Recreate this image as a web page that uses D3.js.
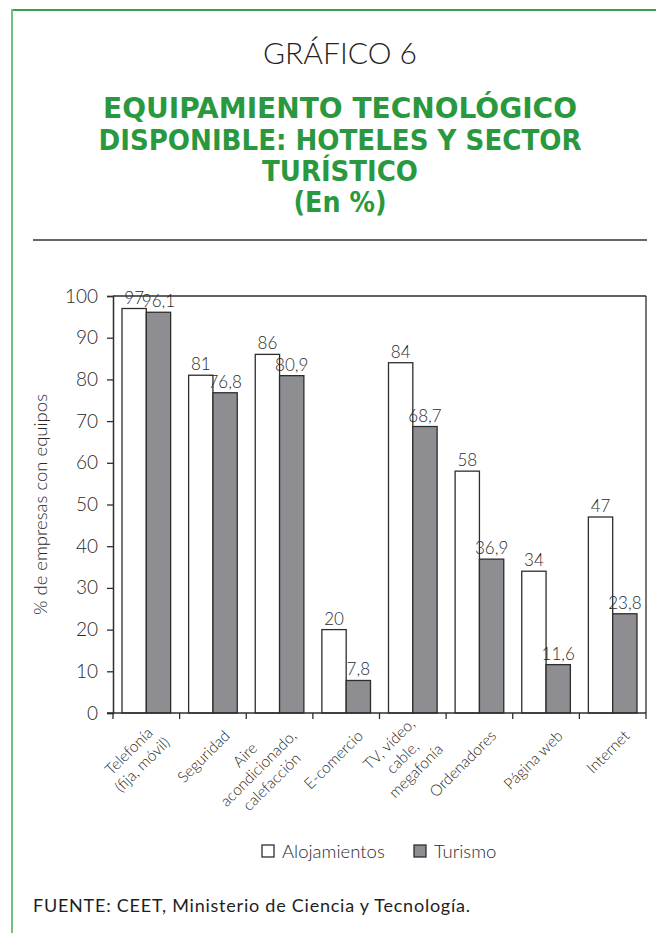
<!DOCTYPE html>
<html lang="es">
<head>
<meta charset="utf-8">
<script src="https://cdn.jsdelivr.net/npm/d3@7"></script>
<style>
  html, body { margin: 0; padding: 0; background: #fff; }
  svg { display: block; }
</style>
</head>
<body>
<svg id="chart" width="656" height="933"></svg>
<script>
// Equipamiento tecnológico: Alojamientos vs Turismo (%)
const categories = [
  ["Telefonía", "(fija, móvil)"],
  ["Seguridad"],
  ["Aire", "acondicionado,", "calefacción"],
  ["E-comercio"],
  ["TV, vídeo,", "cable,", "megafonía"],
  ["Ordenadores"],
  ["Página web"],
  ["Internet"]
];
const seriesNames = ["Alojamientos", "Turismo"];
const alojamientos = [97, 81, 86, 20, 84, 58, 34, 47];
const turismo = [96.1, 76.8, 80.9, 7.8, 68.7, 36.9, 11.6, 23.8];
const yTicks = [0, 10, 20, 30, 40, 50, 60, 70, 80, 90, 100];

const titleLines = ["EQUIPAMIENTO TECNOLÓGICO", "DISPONIBLE: HOTELES Y SECTOR", "TURÍSTICO", "(En %)"];

const FONT = "Lato, 'Open Sans', 'Liberation Sans', sans-serif";
const TXT = "#2a2a2a";
const GREEN = "#2a983e";
const fills = ["#ffffff", "#8e8e92"];

const svg = d3.select("#chart");

// Page frame (green rules top and left)
svg.append("line").attr("x1", 12).attr("x2", 656).attr("y1", 10).attr("y2", 10)
  .attr("stroke", "#3a9e4e").attr("stroke-width", 2);
svg.append("line").attr("x1", 12).attr("x2", 12).attr("y1", 9).attr("y2", 933)
  .attr("stroke", "#72c07f").attr("stroke-width", 2);

// Headings
svg.append("text").attr("x", 340).attr("y", 64).attr("text-anchor", "middle")
  .attr("font-family", FONT).attr("font-weight", 300).attr("font-size", 30)
  .attr("fill", "#222").text("GRÁFICO 6");

const titleY = [118, 150, 181, 212];
const titleW = [474, 483, 156, 93];
titleLines.forEach((t, i) => {
  svg.append("text").attr("x", 340).attr("y", titleY[i]).attr("text-anchor", "middle")
    .attr("font-family", "'DejaVu Sans', sans-serif").attr("font-weight", 700)
    .attr("font-size", 28).attr("fill", GREEN)
    .attr("textLength", titleW[i]).attr("lengthAdjust", "spacingAndGlyphs")
    .text(t);
});

svg.append("line").attr("x1", 33).attr("x2", 647).attr("y1", 240).attr("y2", 240)
  .attr("stroke", "#333").attr("stroke-width", 1.5);

// Plot area
const plot = { left: 113, right: 646, top: 296, bottom: 713 };
const keys = categories.map(c => c.join(" "));

const x = d3.scaleBand().domain(keys).range([plot.left, plot.right]).paddingInner(0).paddingOuter(0);
const x1 = d3.scaleBand().domain(seriesNames).range([0, x.bandwidth()]).paddingInner(0).paddingOuter(0.37);
const y = d3.scaleLinear().domain([0, 100]).range([plot.bottom, plot.top]);

const rows = keys.map((k, i) => ({ key: k, values: [alojamientos[i], turismo[i]] }));

// Bars
const groups = svg.append("g").selectAll("g").data(rows).join("g")
  .attr("transform", d => `translate(${x(d.key)},0)`);

groups.selectAll("rect").data(d => d.values.map((v, j) => ({ s: seriesNames[j], v, j })))
  .join("rect")
  .attr("x", d => x1(d.s))
  .attr("y", d => y(d.v))
  .attr("width", x1.bandwidth())
  .attr("height", d => y(0) - y(d.v))
  .attr("fill", d => fills[d.j])
  .attr("stroke", "#2e2e2e").attr("stroke-width", 1.3);

// Value labels (comma decimal)
const esLocale = d3.formatLocale({ decimal: ",", thousands: ".", grouping: [3], currency: ["", "€"] });
const fmt = v => Number.isInteger(v) ? String(v) : esLocale.format(".1f")(v);

groups.selectAll("text.val").data(d => d.values.map((v, j) => ({ s: seriesNames[j], v, j })))
  .join("text").attr("class", "val")
  .attr("x", d => x1(d.s) + x1.bandwidth() / 2)
  .attr("y", d => y(d.v) - 5)
  .attr("text-anchor", "middle")
  .attr("font-family", FONT).attr("font-weight", 300).attr("font-size", 17)
  .attr("fill", TXT)
  .text(d => fmt(d.v));

// Frame: top and right edges of plot
svg.append("line").attr("x1", plot.left).attr("x2", plot.right).attr("y1", y(100)).attr("y2", y(100))
  .attr("stroke", "#2e2e2e").attr("stroke-width", 1.3);
svg.append("line").attr("x1", plot.right).attr("x2", plot.right).attr("y1", y(100)).attr("y2", y(0))
  .attr("stroke", "#2e2e2e").attr("stroke-width", 1.3);

// Y axis
const yAxis = svg.append("g").attr("transform", `translate(${plot.left},0)`)
  .call(d3.axisLeft(y).tickValues(yTicks).tickSize(6).tickPadding(9).tickFormat(d3.format("d")));
yAxis.select(".domain").attr("stroke", "#2e2e2e").attr("stroke-width", 1.5);
yAxis.selectAll(".tick line").attr("stroke", "#2e2e2e").attr("stroke-width", 1.3);
yAxis.selectAll(".tick text").attr("font-family", FONT).attr("font-weight", 300)
  .attr("font-size", 19).attr("fill", TXT);

// X axis: ticks at category boundaries
const bounds = keys.map(k => x(k)).concat([x.range()[1]]);
const xAxis = svg.append("g").attr("transform", `translate(0,${plot.bottom})`);
xAxis.append("line").attr("x1", plot.left - 6).attr("x2", plot.right).attr("y1", 0).attr("y2", 0)
  .attr("stroke", "#2e2e2e").attr("stroke-width", 1.5);
xAxis.selectAll("line.tk").data(bounds).join("line").attr("class", "tk")
  .attr("x1", d => d).attr("x2", d => d).attr("y1", 0).attr("y2", 6)
  .attr("stroke", "#2e2e2e").attr("stroke-width", 1.3);

// Category labels, rotated -45°, centred lines, block right-middle anchored near the band centre
const lh = 19;
const catG = svg.append("g").selectAll("g").data(categories).join("g")
  .attr("transform", (d, i) => `translate(${x(keys[i]) + x.bandwidth() / 2 + 14},${plot.bottom + 20}) rotate(-45)`);
catG.each(function (lines) {
  const g = d3.select(this);
  const n = lines.length;
  const texts = lines.map((t, i) => g.append("text")
    .attr("y", (i - (n - 1) / 2) * lh)
    .attr("dy", "0.35em")
    .attr("text-anchor", "middle")
    .attr("font-family", FONT).attr("font-weight", 300).attr("font-size", 15.5)
    .attr("fill", TXT).text(t));
  const W = d3.max(texts, t => t.node().getComputedTextLength());
  texts.forEach(t => t.attr("x", -W / 2));
});

// Y axis title
svg.append("text")
  .attr("transform", `translate(47,${(plot.top + plot.bottom) / 2}) rotate(-90)`)
  .attr("text-anchor", "middle")
  .attr("font-family", FONT).attr("font-weight", 300).attr("font-size", 18.5)
  .attr("fill", TXT).text("% de empresas con equipos");

// Legend
const legend = svg.append("g");
const legX = [262, 414];
seriesNames.forEach((s, i) => {
  legend.append("rect").attr("x", legX[i]).attr("y", 845).attr("width", 12).attr("height", 12)
    .attr("fill", fills[i]).attr("stroke", "#2e2e2e").attr("stroke-width", 1.3);
  legend.append("text").attr("x", legX[i] + 20).attr("y", 858)
    .attr("font-family", FONT).attr("font-weight", 300).attr("font-size", 18.5)
    .attr("fill", TXT).text(s);
});

// Source note
svg.append("text").attr("x", 33).attr("y", 912)
  .attr("font-family", FONT).attr("font-weight", 400).attr("font-size", 18)
  .attr("textLength", 437).attr("lengthAdjust", "spacing")
  .attr("fill", "#1e1e1e").text("FUENTE: CEET, Ministerio de Ciencia y Tecnología.");
</script>
</body>
</html>
